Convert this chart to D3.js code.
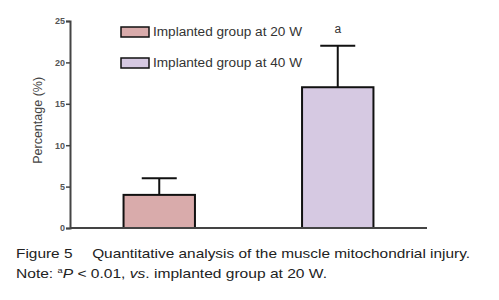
<!DOCTYPE html>
<html>
<head>
<meta charset="utf-8">
<script src="https://cdn.jsdelivr.net/npm/d3@7"></script>
<style>
body { margin: 0; background: #fff; }
svg { display: block; font-family: "Liberation Sans", Arial, sans-serif; }
</style>
</head>
<body>
<svg width="499" height="300"></svg>
<script>
var groups = ["Implanted group at 20 W", "Implanted group at 40 W"]
var means = [4, 17]
var errs = [2, 5]
var colors = ["#d9abab", "#d6c9e2"]
var yTicks = [0, 5, 10, 15, 20, 25]
var sigLabels = ["", "a"]

var svg = d3.select("svg")

var y = d3.scaleLinear().domain([0, 25]).range([228, 21])
var x = d3.scaleBand().domain(groups).range([70, 427]).paddingInner(0.6).paddingOuter(0.3)

// bars
svg.selectAll("rect.bar")
    .data(groups).enter()
    .append("rect")
    .attr("class", "bar")
    .attr("x", function (d) { return x(d) })
    .attr("width", x.bandwidth())
    .attr("y", function (d, i) { return y(means[i]) })
    .attr("height", function (d, i) { return y(0) - y(means[i]) })
    .attr("fill", function (d, i) { return colors[i] })
    .attr("stroke", "#111")
    .attr("stroke-width", 2)

// error bars
svg.selectAll("line.err")
    .data(groups).enter()
    .append("line")
    .attr("x1", function (d) { return x(d) + x.bandwidth() / 2 })
    .attr("x2", function (d) { return x(d) + x.bandwidth() / 2 })
    .attr("y1", function (d, i) { return y(means[i]) })
    .attr("y2", function (d, i) { return y(means[i] + errs[i]) })
    .attr("stroke", "#111").attr("stroke-width", 2)
svg.selectAll("line.cap")
    .data(groups).enter()
    .append("line")
    .attr("x1", function (d) { return x(d) + x.bandwidth() / 2 - 17.5 })
    .attr("x2", function (d) { return x(d) + x.bandwidth() / 2 + 17.5 })
    .attr("y1", function (d, i) { return y(means[i] + errs[i]) })
    .attr("y2", function (d, i) { return y(means[i] + errs[i]) })
    .attr("stroke", "#111").attr("stroke-width", 2)

svg.selectAll("text.sig")
    .data(groups).enter()
    .append("text")
    .attr("x", function (d) { return x(d) + x.bandwidth() / 2 })
    .attr("y", function (d, i) { return y(means[i] + errs[i]) - 13 })
    .attr("text-anchor", "middle")
    .attr("font-size", 12).attr("fill", "#333")
    .text(function (d, i) { return sigLabels[i] })

// y axis
var yAxis = svg.append("g")
    .attr("transform", "translate(70,0)")
    .call(d3.axisLeft(y).tickValues(yTicks).tickSize(4).tickPadding(1))
yAxis.select(".domain").attr("stroke", "#444").attr("stroke-width", 2)
yAxis.selectAll(".tick line").attr("stroke", "#444").attr("stroke-width", 1.5)
yAxis.selectAll(".tick text").attr("font-size", 9).attr("font-weight", "bold").attr("fill", "#555")
    .attr("font-family", "Liberation Sans Narrow, Liberation Sans, Arial, sans-serif")

// x axis baseline
svg.append("line")
    .attr("x1", 70).attr("x2", 427)
    .attr("y1", y(0)).attr("y2", y(0))
    .attr("stroke", "#444").attr("stroke-width", 2)

svg.append("text")
    .attr("transform", "translate(42," + y(13) + ") rotate(-90)")
    .attr("text-anchor", "middle")
    .attr("font-size", 12.5).attr("fill", "#444")
    .text("Percentage (%)")

// legend
var legend = svg.selectAll("g.leg")
    .data(groups).enter()
    .append("g")
    .attr("transform", function (d, i) { return "translate(121," + (27 + i * 31) + ")" })
legend.append("rect")
    .attr("width", 28).attr("height", 10)
    .attr("fill", function (d, i) { return colors[i] })
    .attr("stroke", "#111").attr("stroke-width", 1.5)
legend.append("text")
    .attr("x", 32).attr("y", 9)
    .attr("font-size", 12).attr("fill", "#333")
    .attr("textLength", 149).attr("lengthAdjust", "spacingAndGlyphs")
    .text(function (d) { return d })

// caption
var cap = svg.append("text").attr("x", 16).attr("y", 258).attr("font-size", 13.5).attr("fill", "#222")
    .attr("textLength", 454).attr("lengthAdjust", "spacingAndGlyphs")
cap.text("Figure 5\u2003 Quantitative analysis of the muscle mitochondrial injury.")
var note = svg.append("text").attr("x", 16).attr("y", 278).attr("font-size", 13.5).attr("fill", "#222")
    .attr("textLength", 311).attr("lengthAdjust", "spacingAndGlyphs")
note.append("tspan").text("Note: ")
note.append("tspan").attr("font-size", 8).attr("dy", -5).text("a")
note.append("tspan").attr("font-style", "italic").attr("dy", 5).text("P")
note.append("tspan").text(" < 0.01, ")
note.append("tspan").attr("font-style", "italic").text("vs")
note.append("tspan").text(". implanted group at 20 W.")
</script>
</body>
</html>
